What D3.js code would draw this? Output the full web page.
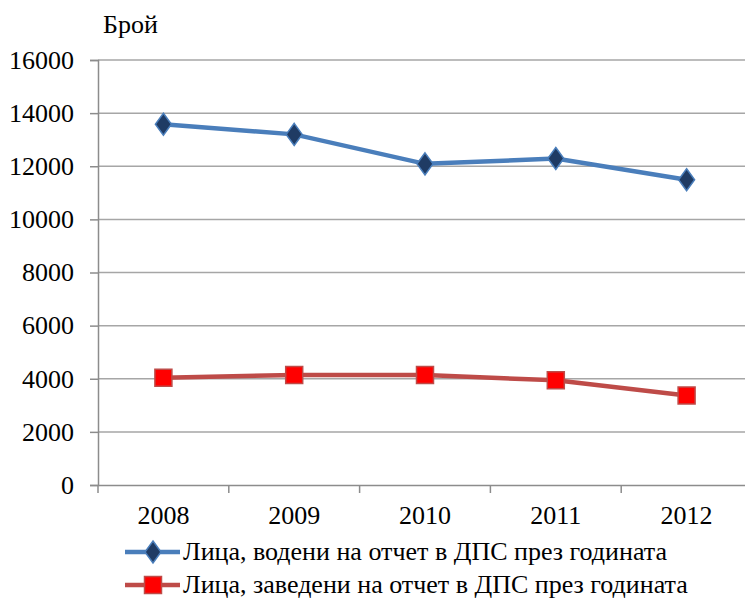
<!DOCTYPE html>
<html>
<head>
<meta charset="utf-8">
<script src="https://cdn.jsdelivr.net/npm/d3@7"></script>
<style>
  body { margin: 0; background: #fff; }
  svg text { font-family: "Liberation Serif", "Times New Roman", "DejaVu Serif", serif !important; }
</style>
</head>
<body>
<svg id="chart" width="745" height="598"></svg>
<script>
// chart data
let years = ["2008", "2009", "2010", "2011", "2012"];
let kept = [13580, 13200, 12090, 12290, 11490];
let admitted = [4040, 4140, 4140, 3940, 3370];
let yTicks = [0, 2000, 4000, 6000, 8000, 10000, 12000, 14000, 16000];
let seriesNames = [
    "Лица, водени на отчет в ДПС през годината",
    "Лица, заведени на отчет в ДПС през годината"
];

let fontSize = 26;
let svg = d3.select("#chart");
let margin = { top: 60, right: -7, bottom: 113, left: 98 };
let width = +svg.attr("width") - margin.left - margin.right;
let height = +svg.attr("height") - margin.top - margin.bottom;
let g = svg.append("g").attr("transform", "translate(" + margin.left + "," + margin.top + ")");

let x = d3.scaleBand().domain(years).range([0, width]);
let y = d3.scaleLinear().domain([0, 16000]).range([height, 0]);

// gridlines
g.selectAll(".grid")
    .data(yTicks.filter(d => d > 0))
    .enter().append("line")
    .attr("x1", 0)
    .attr("x2", width)
    .attr("y1", d => y(d))
    .attr("y2", d => y(d))
    .attr("stroke", "#a6a6a6")
    .attr("stroke-width", 1.5);

// y axis
let yAxis = g.append("g")
    .call(d3.axisLeft(y).tickValues(yTicks).tickSize(8).tickPadding(16).tickFormat(d3.format("d")));
yAxis.select(".domain").attr("stroke", "#8c8c8c").attr("stroke-width", 1.5);
yAxis.selectAll(".tick line").attr("stroke", "#8c8c8c").attr("stroke-width", 1.5);
yAxis.selectAll("text").attr("font-size", fontSize).attr("fill", "#000");

// x axis with ticks at band edges
let xAxis = g.append("g")
    .attr("transform", "translate(0," + height + ")")
    .call(d3.axisBottom(x).tickSize(0).tickPadding(21));
xAxis.select(".domain").attr("stroke", "#8c8c8c").attr("stroke-width", 1.5);
xAxis.selectAll("text").attr("font-size", fontSize).attr("fill", "#000");
xAxis.selectAll(".edge")
    .data(years.map(d => x(d)).concat([width]))
    .enter().append("line")
    .attr("x1", d => d).attr("x2", d => d)
    .attr("y1", 0).attr("y2", 8)
    .attr("stroke", "#8c8c8c").attr("stroke-width", 1.5);

// axis title
svg.append("text")
    .attr("x", 103)
    .attr("y", 33)
    .attr("font-size", fontSize)
    .text("Брой");

let cx = d => x(d) + x.bandwidth() / 2;
let line = d3.line().x(d => cx(d.year)).y(d => y(d.value));

// tall diamond and square markers
let diamond = "M0,-11L8,0L0,11L-8,0Z";
let square = "M-8.5,-8.5H8.5V8.5H-8.5Z";

let series = [
    { values: kept, stroke: "#4a7ebb", fill: "#1f3b64", mstroke: "#4a7ebb", shape: diamond },
    { values: admitted, stroke: "#be4b48", fill: "#ff0000", mstroke: "#be4b48", shape: square }
];

series.forEach(s => {
    let pts = years.map((yr, i) => ({ year: yr, value: s.values[i] }));
    g.append("path")
        .datum(pts)
        .attr("fill", "none")
        .attr("stroke", s.stroke)
        .attr("stroke-width", 4.5)
        .attr("d", line);
    g.selectAll(null)
        .data(pts)
        .enter().append("path")
        .attr("transform", d => "translate(" + cx(d.year) + "," + y(d.value) + ")")
        .attr("d", s.shape)
        .attr("fill", s.fill)
        .attr("stroke", s.mstroke)
        .attr("stroke-width", 1.5);
});

// legend
let legendY = [552, 585];
series.forEach((s, i) => {
    let lg = svg.append("g").attr("transform", "translate(125," + legendY[i] + ")");
    lg.append("line")
        .attr("x1", 0).attr("x2", 55)
        .attr("stroke", s.stroke).attr("stroke-width", 4.5);
    lg.append("path")
        .attr("transform", "translate(28,0)")
        .attr("d", s.shape)
        .attr("fill", s.fill)
        .attr("stroke", s.mstroke)
        .attr("stroke-width", 1.5);
    lg.append("text")
        .attr("x", 58)
        .attr("dy", "0.3em")
        .attr("font-size", fontSize)
        .text(seriesNames[i]);
});
</script>
</body>
</html>
